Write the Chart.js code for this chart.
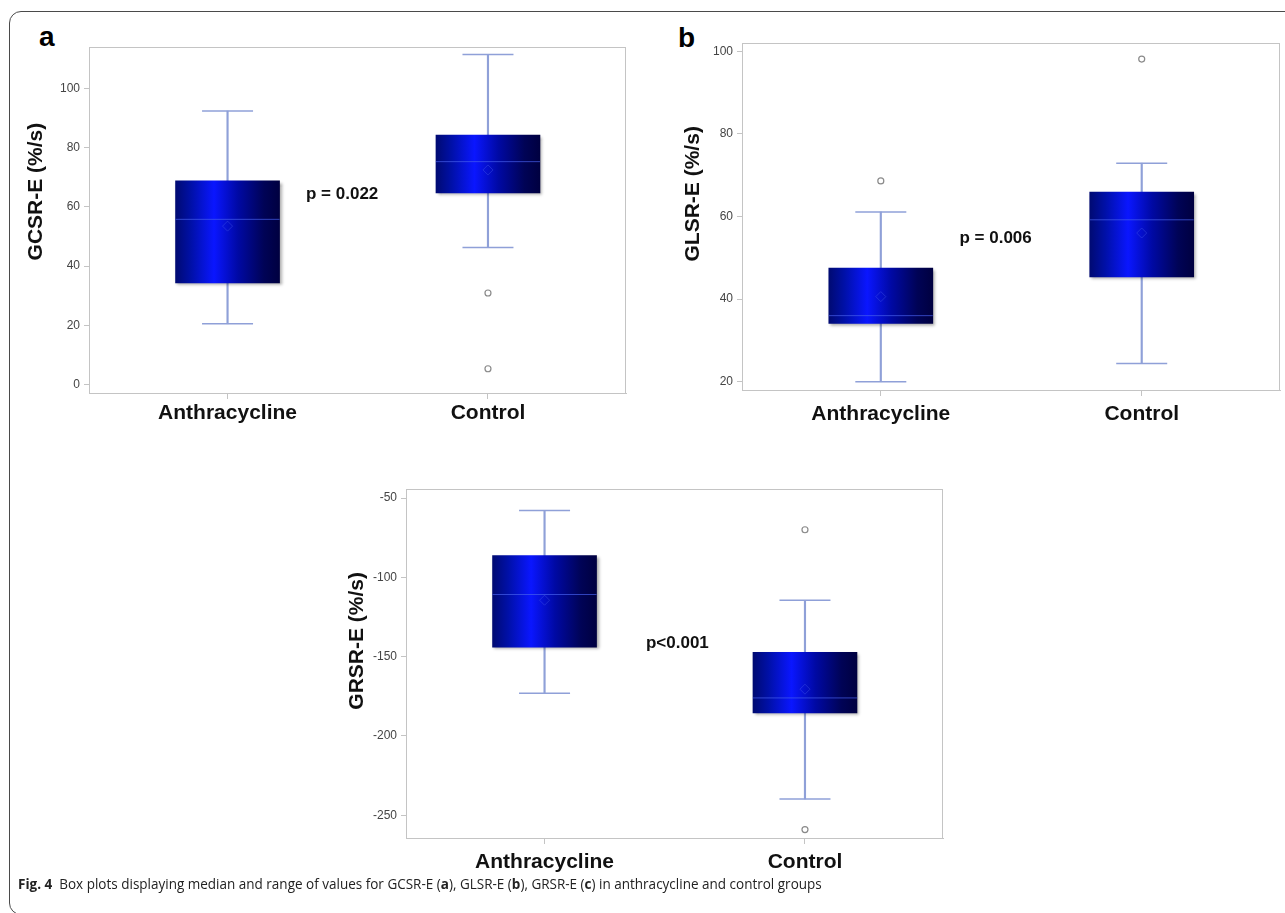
<!DOCTYPE html>
<html>
<head>
<meta charset="utf-8">
<title>Fig. 4 box plots</title>
<script src="https://cdn.jsdelivr.net/npm/chart.js@4.4.1/dist/chart.umd.min.js"></script>
<style>
  html, body { margin: 0; padding: 0; background: #fff; }
  body { width: 1285px; height: 913px; position: relative; overflow: hidden; }
  .frame { position: absolute; left: 9px; top: 11px; width: 1300px; height: 904px;
           border: 1.5px solid #4a4a4a; border-radius: 12px; box-sizing: border-box; }
  canvas { position: absolute; }
  .tag { position: absolute; font: bold 28px "Liberation Sans", Arial, sans-serif; line-height: 28px; color: #000; }
  .caption { position: absolute; left: 18px; top: 876px; white-space: nowrap;
             font: 15px "Open Sans", "Noto Sans", sans-serif; line-height: 15px; color: #222;
             transform: scaleX(0.9); transform-origin: 0 0; }
</style>
</head>
<body>
<div class="frame"></div>
<div class="tag" style="left:39px;top:23px">a</div>
<div class="tag" style="left:678px;top:24px">b</div>
<canvas id="chartA" width="640" height="440" style="left:0;top:0"></canvas>
<canvas id="chartB" width="645" height="440" style="left:640px;top:0"></canvas>
<canvas id="chartC" width="640" height="410" style="left:330px;top:470px"></canvas>
<div class="caption"><b>Fig. 4</b>&nbsp; Box plots displaying median and range of values for GCSR-E (<b>a</b>), GLSR-E (<b>b</b>), GRSR-E (<b>c</b>) in anthracycline and control groups</div>

<script>
// ---- data ----
const categories = ['Anthracycline', 'Control'];

// (a) GCSR-E
const gcsrLow = [20.5, 46.3];
const gcsrQ1 = [34.3, 64.7];
const gcsrMedian = [55.8, 75.3];
const gcsrQ3 = [68.8, 84.3];
const gcsrHigh = [92.4, 111.5];
const gcsrMean = [53.5, 72.5];
const gcsrOutliers = [[], [30.9, 5.3]];
const gcsrTicks = [0, 20, 40, 60, 80, 100];

// (b) GLSR-E
const glsrLow = [20.0, 24.4];
const glsrQ1 = [34.1, 45.4];
const glsrMedian = [36.0, 59.2];
const glsrQ3 = [47.5, 65.9];
const glsrHigh = [61.1, 72.9];
const glsrMean = [40.6, 56.0];
const glsrOutliers = [[68.6], [98.1]];
const glsrTicks = [20, 40, 60, 80, 100];

// (c) GRSR-E
const grsrLow = [-173.0, -239.7];
const grsrQ1 = [-144.0, -185.4];
const grsrMedian = [-110.8, -176.0];
const grsrQ3 = [-86.2, -147.2];
const grsrHigh = [-57.8, -114.5];
const grsrMean = [-114.4, -170.5];
const grsrOutliers = [[], [-70.0, -259.0]];
const grsrTicks = [-250, -200, -150, -100, -50];

// ---- styling ----
const FONT = '"Liberation Sans", Arial, sans-serif';
const AXIS = '#c4c4c4';
const WHISKER = '#8fa0d8';
const BOX_W = 104;
const CAP_W = 51;

Chart.defaults.font.family = FONT;

// horizontal shading of the boxes, built per box from its x pixel
function boxFill(c) {
  const chart = c.chart;
  if (!chart.chartArea || !c.raw) return '#000a9a';
  const cx = chart.scales.x.getPixelForValue(c.raw.x);
  const g = chart.ctx.createLinearGradient(cx - BOX_W / 2, 0, cx + BOX_W / 2, 0);
  g.addColorStop(0, '#000a72');
  g.addColorStop(0.15, '#0010a8');
  g.addColorStop(0.37, '#0a16ff');
  g.addColorStop(0.6, '#0009a4');
  g.addColorStop(0.85, '#000356');
  g.addColorStop(1, '#000040');
  return g;
}

const pts = (arr) => arr.map((v, i) => ({ x: i, y: v }));

function boxDatasets(s) {
  return [
    { type: 'bar', label: 'whisker', order: 6, grouped: false,
      data: categories.map((c, i) => ({ x: i, y: [s.low[i], s.high[i]] })),
      backgroundColor: WHISKER, barThickness: 1.5 },
    { type: 'bar', label: 'box', order: 5, grouped: false,
      data: categories.map((c, i) => ({ x: i, y: [s.q1[i], s.q3[i]] })),
      backgroundColor: boxFill, borderWidth: 0, barThickness: BOX_W },
    { type: 'line', label: 'median', order: 4, showLine: false, data: pts(s.median),
      pointStyle: 'line', pointRadius: BOX_W / 2, pointBorderColor: 'rgba(70,95,235,0.7)', pointBorderWidth: 1 },
    { type: 'line', label: 'mean', order: 3, showLine: false, data: pts(s.mean),
      pointStyle: 'rectRot', pointRadius: 5, pointBackgroundColor: 'rgba(0,0,0,0)',
      pointBorderColor: 'rgba(70,90,230,0.4)', pointBorderWidth: 1 },
    { type: 'line', label: 'cap', order: 2, showLine: false, data: [...pts(s.low), ...pts(s.high)],
      pointStyle: 'line', pointRadius: CAP_W / 2, pointBorderColor: WHISKER, pointBorderWidth: 1.5 },
    { type: 'line', label: 'outlier', order: 1, showLine: false,
      data: s.outliers.flatMap((arr, i) => arr.map((v) => ({ x: i, y: v }))),
      pointStyle: 'circle', pointRadius: 3, pointBackgroundColor: '#fff',
      pointBorderColor: '#8a8a8a', pointBorderWidth: 1.2 },
  ];
}

// light grey box around the plot area (bottom edge lines up with the x border)
const framePlugin = {
  id: 'frame',
  afterDraw(chart) {
    const { ctx, chartArea: a } = chart;
    ctx.save();
    ctx.strokeStyle = AXIS;
    ctx.lineWidth = 1;
    ctx.strokeRect(a.left + 0.5, a.top + 0.5, a.right - a.left - 1, a.bottom - a.top);
    ctx.restore();
  }
};

// soft drop shadow under the boxes
const shadowPlugin = {
  id: 'boxShadow',
  beforeDatasetDraw(chart, args) {
    if (chart.data.datasets[args.index].label !== 'box') return;
    const c = chart.ctx;
    c.save();
    c.shadowColor = 'rgba(0,0,0,0.35)';
    c.shadowBlur = 3;
    c.shadowOffsetX = 2;
    c.shadowOffsetY = 2;
  },
  afterDatasetDraw(chart, args) {
    if (chart.data.datasets[args.index].label === 'box') chart.ctx.restore();
  }
};

// y title (sits a bit above centre in the original) and the p-value label
const panelTextPlugin = {
  id: 'panelText',
  afterDraw(chart, args, o) {
    const { ctx, chartArea: a, scales } = chart;
    ctx.save();
    ctx.translate(a.left + o.titleDx, (a.top + a.bottom) / 2 + o.titleDy);
    ctx.rotate(-Math.PI / 2);
    ctx.font = 'bold 21px ' + FONT;
    ctx.fillStyle = '#111';
    ctx.textAlign = 'center';
    ctx.textBaseline = 'middle';
    ctx.fillText(o.title, 0, 0);
    ctx.restore();

    ctx.save();
    ctx.font = 'bold 17px ' + FONT;
    ctx.fillStyle = '#111';
    ctx.textAlign = 'center';
    ctx.textBaseline = 'middle';
    ctx.fillText(o.pText, scales.x.getPixelForValue(o.pX), scales.y.getPixelForValue(o.pY));
    ctx.restore();
  }
};

function makePanel(id, s, p) {
  return new Chart(document.getElementById(id), {
    type: 'bar',
    data: { datasets: boxDatasets(s) },
    plugins: [shadowPlugin, framePlugin, panelTextPlugin],
    options: {
      responsive: false,
      animation: false,
      events: [],
      // the wide "line" points used for medians would otherwise inflate the margins
      layout: { autoPadding: false, padding: { top: p.top, right: p.right, left: 0, bottom: 0 } },
      plugins: {
        legend: { display: false },
        tooltip: { enabled: false },
        panelText: { title: p.title, titleDx: p.titleDx, titleDy: p.titleDy, pText: p.pText, pX: p.pX, pY: p.pY }
      },
      scales: {
        x: {
          type: 'linear', min: -0.532, max: 1.53, offset: false,
          afterBuildTicks: (sc) => { sc.ticks = categories.map((c, i) => ({ value: i })); },
          afterFit: (sc) => { sc.height = p.xHeight; },
          ticks: { callback: (v) => categories[v], color: '#111', padding: p.xPad,
                   font: { size: 21, weight: 'bold' }, maxRotation: 0, autoSkip: false },
          grid: { display: true, drawOnChartArea: false, drawTicks: true, tickLength: 6, color: AXIS, offset: false },
          border: { display: true, color: AXIS, width: 1 }
        },
        y: {
          type: 'linear', min: p.yMin, max: p.yMax,
          afterBuildTicks: (sc) => { sc.ticks = s.ticks.map((v) => ({ value: v })); },
          afterFit: (sc) => { sc.width = p.yWidth; },
          ticks: { callback: (v) => String(v), color: '#444', padding: 4, font: { size: 12 } },
          grid: { display: true, drawOnChartArea: false, drawTicks: true, tickLength: 5, color: AXIS },
          border: { display: true, color: AXIS, width: 1 }
        }
      }
    }
  });
}

makePanel('chartA',
  { low: gcsrLow, q1: gcsrQ1, median: gcsrMedian, q3: gcsrQ3, high: gcsrHigh, mean: gcsrMean, outliers: gcsrOutliers, ticks: gcsrTicks },
  { top: 47, right: 14, yWidth: 89, xHeight: 47, xPad: 2, yMin: -2.9, yMax: 114.05,
    title: 'GCSR-E (%/s)', titleDx: -53, titleDy: -28.4, pText: 'p = 0.022', pX: 0.44, pY: 64.3 });

makePanel('chartB',
  { low: glsrLow, q1: glsrQ1, median: glsrMedian, q3: glsrQ3, high: glsrHigh, mean: glsrMean, outliers: glsrOutliers, ticks: glsrTicks },
  { top: 43, right: 5, yWidth: 102, xHeight: 50, xPad: 6, yMin: 18.0, yMax: 102.0,
    title: 'GLSR-E (%/s)', titleDx: -49, titleDy: -22.7, pText: 'p = 0.006', pX: 0.44, pY: 54.7 });

makePanel('chartC',
  { low: grsrLow, q1: grsrQ1, median: grsrMedian, q3: grsrQ3, high: grsrHigh, mean: grsrMean, outliers: grsrOutliers, ticks: grsrTicks },
  { top: 19, right: 27, yWidth: 76, xHeight: 42, xPad: 6, yMin: -264.3, yMax: -44.3,
    title: 'GRSR-E (%/s)', titleDx: -49, titleDy: -22.7, pText: 'p<0.001', pX: 0.51, pY: -141.7 });
</script>
</body>
</html>
